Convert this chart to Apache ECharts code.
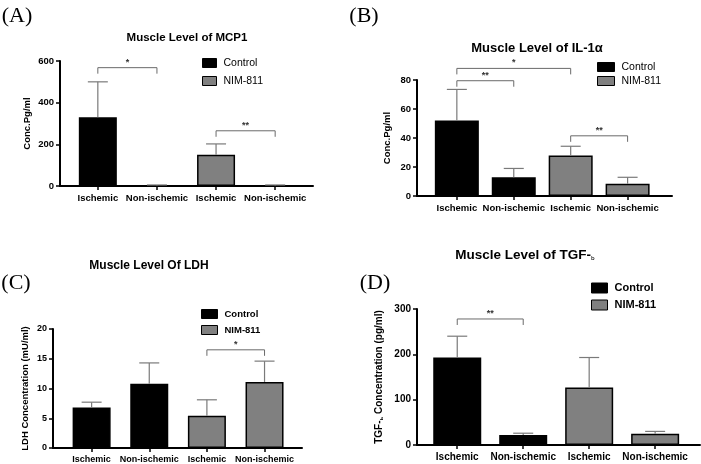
<!DOCTYPE html>
<html><head><meta charset="utf-8">
<script src="https://cdn.jsdelivr.net/npm/echarts@6/dist/echarts.min.js"></script>
<style>html,body{margin:0;padding:0;background:#fff}#c{width:701px;height:464px}</style>
</head><body><div id="c"></div>
<script>
// ---- data ----
const categories = ['Ischemic', 'Non-ischemic', 'Ischemic', 'Non-ischemic'];
const groupNames = ['Control', 'NIM-811'];
const groupOfBar = [0, 0, 1, 1];

const mcp1Mean = [330, 3, 150, 3];
const mcp1Sd = [170, 2, 52, 2];
const mcp1Sig = [[0, 1, 568, '*'], [2, 3, 265, '**']];

const il1aMean = [52, 13, 28, 8.5];
const il1aSd = [21.5, 6, 6.3, 4.4];
const il1aSig = [[0, 2, 88, '*'], [0, 1, 79.5, '**'], [2, 3, 41.5, '**']];

const ldhMean = [6.8, 10.8, 5.4, 11.1];
const ldhSd = [0.9, 3.5, 2.7, 3.5];
const ldhSig = [[2, 3, 16.5, '*']];

const tgfMean = [193, 22, 127, 25];
const tgfSd = [47, 4, 66, 5];
const tgfSig = [[0, 1, 278, '**']];

// ---- styling / layout ----
const FONT = 'Liberation Sans';
const groupColors = ['#000000', '#808080'];
const panels = [
  { mean: mcp1Mean, sd: mcp1Sd, sig: mcp1Sig, yMax: 600, yInt: 200,
    grid: { left: 60, top: 61, width: 253, height: 125 }, xMin: -0.64, xMax: 3.64, barW: 38,
    yName: 'Conc.Pg/ml', nameGap: 28, catSize: 9.5, tickSize: 9.5,
    legend: { left: 202, top: 57, gap: 6, bold: false, w: 14, h: 9, size: 10.5 } },
  { mean: il1aMean, sd: il1aSd, sig: il1aSig, yMax: 80, yInt: 20,
    grid: { left: 417, top: 80, width: 255, height: 116 }, xMin: -0.70, xMax: 3.78, barW: 44,
    yName: 'Conc.Pg/ml', nameGap: 25, catSize: 9.5, tickSize: 9.5,
    legend: { left: 597, top: 61, gap: 2, bold: false, w: 17, h: 9, size: 10.5 } },
  { mean: ldhMean, sd: ldhSd, sig: ldhSig, yMax: 20, yInt: 5,
    grid: { left: 53, top: 329, width: 249, height: 119 }, xMin: -0.67, xMax: 3.65, barW: 38,
    yName: 'LDH Concentration (mU/ml)', nameGap: 23, catSize: 9, tickSize: 9,
    legend: { left: 201, top: 308, gap: 4, bold: true, w: 16, h: 9, size: 9.5 } },
  { mean: tgfMean, sd: tgfSd, sig: tgfSig, yMax: 300, yInt: 100,
    grid: { left: 417, top: 309, width: 283, height: 136 }, xMin: -0.61, xMax: 3.68, barW: 48,
    yName: '{a|TGF-}{b|ь}{a| Concentration (pg/ml)}', nameGap: 33, catSize: 10, tickSize: 10,
    legend: { left: 591, top: 282, gap: 5, bold: true, w: 16, h: 10, size: 11 } }
];

const grids = [], xAxes = [], yAxes = [], series = [], legends = [];
panels.forEach((p, k) => {
  grids.push(Object.assign({ containLabel: false }, p.grid));
  xAxes.push({
    type: 'value', gridIndex: k, min: p.xMin, max: p.xMax,
    axisLine: { show: true, onZero: false, lineStyle: { color: '#000', width: 2 } },
    axisTick: { show: true, customValues: [0, 1, 2, 3], length: 4, lineStyle: { color: '#000', width: 1.5 } },
    axisLabel: { customValues: [0, 1, 2, 3], formatter: v => categories[Math.round(v)],
      color: '#000', fontFamily: FONT, fontWeight: 'bold', fontSize: p.catSize, margin: 7 },
    splitLine: { show: false }
  });
  yAxes.push({
    type: 'value', gridIndex: k, min: 0, max: p.yMax, interval: p.yInt,
    name: p.yName, nameLocation: 'middle', nameRotate: 90, nameGap: p.nameGap,
    nameTextStyle: { color: '#000', fontFamily: FONT, fontWeight: 'bold', fontSize: k === 3 ? 10 : 9.5,
      rich: { a: { fontFamily: FONT, fontWeight: 'bold', fontSize: 10, color: '#000' },
              b: { fontFamily: FONT, fontSize: 6, color: '#000', verticalAlign: 'bottom' } } },
    axisLine: { show: true, onZero: false, lineStyle: { color: '#000', width: 2 } },
    axisTick: { show: true, length: 4, lineStyle: { color: '#000', width: 1.5 } },
    axisLabel: { color: '#000', fontFamily: FONT, fontWeight: 'bold', fontSize: p.tickSize, margin: 6 },
    splitLine: { show: false }
  });
  groupNames.forEach((g, gi) => {
    const data = [];
    p.mean.forEach((m, i) => { if (groupOfBar[i] === gi) data.push([i, m]); });
    series.push({
      type: 'bar', name: g, xAxisIndex: k, yAxisIndex: k, stack: 'p' + k,
      barWidth: p.barW, data: data,
      itemStyle: { color: groupColors[gi], borderColor: '#000', borderWidth: 1.5 },
      z: 2
    });
  });
  // error bars (upper only)
  series.push({
    type: 'custom', xAxisIndex: k, yAxisIndex: k, clip: false, z: 3,
    data: p.mean.map((m, i) => [i, m, m + p.sd[i]]),
    renderItem: (params, api) => {
      const a = api.coord([api.value(0), api.value(1)]);
      const b = api.coord([api.value(0), api.value(2)]);
      const hw = 10;
      const st = { stroke: '#7a7a7a', lineWidth: 1.2 };
      return { type: 'group', children: [
        { type: 'line', shape: { x1: a[0], y1: a[1], x2: b[0], y2: b[1] }, style: st },
        { type: 'line', shape: { x1: b[0] - hw, y1: b[1], x2: b[0] + hw, y2: b[1] }, style: st }
      ] };
    }
  });
  // significance brackets
  series.push({
    type: 'custom', xAxisIndex: k, yAxisIndex: k, clip: false, z: 4,
    data: p.sig.map(s => [s[0], s[1], s[2]]),
    renderItem: (params, api) => {
      const l = api.coord([api.value(0), api.value(2)]);
      const r = api.coord([api.value(1), api.value(2)]);
      const drop = 6;
      const label = p.sig[params.dataIndex][3];
      return { type: 'group', children: [
        { type: 'polyline', shape: { points: [[l[0], l[1] + drop], l, r, [r[0], r[1] + drop]] },
          style: { stroke: '#6a6a6a', lineWidth: 1, fill: null } },
        { type: 'text', x: (l[0] + r[0]) / 2, y: l[1] - 1,
          style: { text: label, fill: '#333', font: 'bold 9px ' + FONT, textAlign: 'center', textVerticalAlign: 'bottom' } }
      ] };
    }
  });
  const L = p.legend;
  legends.push({
    data: groupNames, orient: 'vertical', left: L.left, top: L.top, padding: 0,
    itemGap: L.gap, itemWidth: L.w, itemHeight: L.h, icon: 'rect',
    itemStyle: { borderColor: '#000', borderWidth: 1 },
    textStyle: { fontFamily: FONT, fontSize: L.size, fontWeight: L.bold ? 'bold' : 'normal', color: '#000', lineHeight: 12, padding: [0, 0, 0, 2] },
    selectedMode: false
  });
});

const txt = (x, y, text, font, extra) => ({ type: 'text', x: x, y: y,
  style: Object.assign({ text: text, font: font, fill: '#000', textAlign: 'center', textVerticalAlign: 'middle' }, extra || {}) });

const graphics = [
  txt(17, 16, '(A)', '22px "Liberation Serif"'),
  txt(364, 16, '(B)', '22px "Liberation Serif"'),
  txt(16, 283, '(C)', '22px "Liberation Serif"'),
  txt(375, 283, '(D)', '22px "Liberation Serif"'),
  txt(187, 38, 'Muscle Level of MCP1', 'bold 11.5px ' + FONT),
  txt(537, 48, 'Muscle Level of IL-1α', 'bold 13px ' + FONT),
  txt(149, 266, 'Muscle Level Of LDH', 'bold 12px ' + FONT),
  { type: 'text', x: 525, y: 255, style: {
      text: '{a|Muscle Level of TGF-}{b|ь}', textAlign: 'center', textVerticalAlign: 'middle',
      rich: { a: { font: 'bold 13.5px ' + FONT, fill: '#000' },
              b: { font: '7px ' + FONT, fill: '#000', verticalAlign: 'bottom' } } } }
];

const chart = echarts.init(document.getElementById('c'), null, { renderer: 'canvas' });
chart.setOption({
  animation: false,
  backgroundColor: '#fff',
  grid: grids, xAxis: xAxes, yAxis: yAxes, series: series, legend: legends,
  graphic: { elements: graphics }
});
</script></body></html>
